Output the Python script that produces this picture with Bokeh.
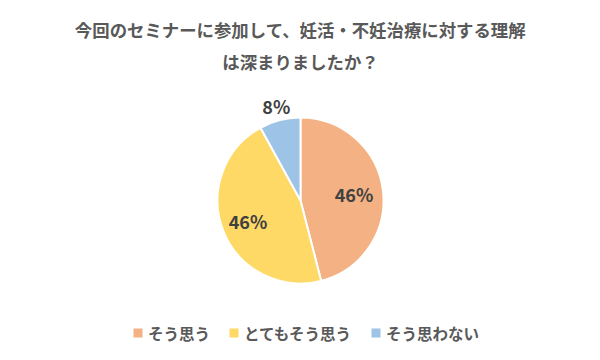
import numpy as np
from bokeh.plotting import figure
from bokeh.models import Range1d
from bokeh.core.properties import value
from bokeh.embed import file_html
from bokeh.resources import INLINE

# ---- data ----
categories = ["そう思う", "とてもそう思う", "そう思わない"]
shares = [46, 46, 8]
colors = ["#F4B183", "#FFD966", "#9DC3E6"]
title_lines = ["今回のセミナーに参加して、妊活・不妊治療に対する理解", "は深まりましたか？"]

W, H = 584, 344
FONT = value("Noto Sans CJK JP")
GRAY = "#595959"

p = figure(width=W, height=H, output_backend="svg", toolbar_location=None,
           x_range=Range1d(0, W), y_range=Range1d(360 - H, 360),
           x_axis_location=None, y_axis_location=None, min_border=0)
p.grid.visible = False
p.outline_line_color = None
p.background_fill_color = "white"
p.border_fill_color = "white"

def Y(screen_y):
    return 360 - screen_y

# ---- pie ----
cx, cy, R = 300, Y(200), 83
total = float(sum(shares))
fr = np.array(shares) / total
ends = np.cumsum(fr)
starts = ends - fr
start_ang = np.pi / 2 - starts * 2 * np.pi
end_ang = np.pi / 2 - ends * 2 * np.pi
p.wedge(x=[cx] * 3, y=[cy] * 3, radius=R, radius_units="data",
        start_angle=list(start_ang), end_angle=list(end_ang), direction="clock",
        fill_color=colors, line_color="white", line_width=2)

# ---- data labels ----
label_r = [0.65, 0.68, 1.17]
mid = (start_ang + end_ang) / 2
lx = [cx + R * r * np.cos(a) for r, a in zip(label_r, mid)]
ly = [cy + R * r * np.sin(a) for r, a in zip(label_r, mid)]
p.text(x=lx, y=ly, text=[f"{s}%" for s in shares], text_font=FONT,
       text_font_style="bold", text_font_size="18px", text_color="#404040",
       text_align="center", text_baseline="middle")

# ---- title ----
p.text(x=[300, 300], y=[Y(29), Y(61)], text=title_lines, text_font=FONT,
       text_font_style="bold", text_font_size="17.4px", text_color=GRAY,
       text_align="center", text_baseline="middle")

# ---- legend ----
sq_x = [137.5, 233.5, 375.5]
p.rect(x=sq_x, y=[Y(332.5)] * 3, width=9, height=9, fill_color=colors, line_color=None)
p.text(x=[x + 10 for x in sq_x], y=[Y(332)] * 3, text=categories, text_font=FONT,
       text_font_style="bold", text_font_size="15.5px", text_color=GRAY,
       text_align="left", text_baseline="middle")

open("out.html", "w").write(file_html(p, INLINE))
